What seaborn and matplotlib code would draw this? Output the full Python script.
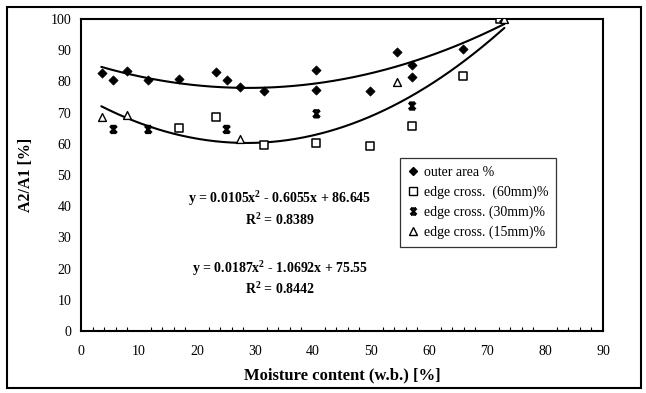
import numpy as np
import pandas as pd
import matplotlib
matplotlib.use("Agg")
import matplotlib.pyplot as plt
from matplotlib.path import Path
from matplotlib.patches import Rectangle
from matplotlib.lines import Line2D
from matplotlib.ticker import MultipleLocator
import seaborn as sns

# Measured ratios A2/A1 against moisture content (w.b.)
outer_x = [3.6, 5.6, 8.0, 11.6, 16.9, 23.2, 25.1, 27.4, 31.6, 40.6, 40.6, 49.8, 54.4, 57.1, 57.1, 65.9, 72.5]
outer_y = [82.8, 80.4, 83.3, 80.3, 80.7, 82.9, 80.4, 78.3, 77.0, 83.5, 77.4, 77.0, 89.3, 85.3, 81.5, 90.4, 100.0]

edge60_x = [16.9, 23.2, 31.6, 40.6, 49.8, 57.1, 65.9, 72.2]
edge60_y = [65.1, 68.7, 59.5, 60.2, 59.3, 65.7, 81.7, 100.0]

edge30_x = [5.6, 11.6, 25.1, 40.6, 57.1, 72.8]
edge30_y = [64.6, 64.6, 64.6, 69.6, 72.1, 100.0]

edge15_x = [3.6, 8.0, 27.4, 54.4, 73.0]
edge15_y = [68.7, 69.2, 61.4, 79.8, 100.0]

series_names = ["outer area %", "edge cross.  (60mm)%", "edge cross. (30mm)%", "edge cross. (15mm)%"]

# Second-order trend lines (coefficients as printed on the chart)
fit_outer = [0.0105, -0.6055, 86.645]
fit_edge = [0.0187, -1.0692, 75.55]
fit_range = [3.5, 73.0]
eq_outer = "y = 0.0105x$^{2}$ - 0.6055x + 86.645\nR$^{2}$ = 0.8389"
eq_edge = "y = 0.0187x$^{2}$ - 1.0692x + 75.55\nR$^{2}$ = 0.8442"

x_ticks = [0, 10, 20, 30, 40, 50, 60, 70, 80, 90]
y_ticks = [0, 10, 20, 30, 40, 50, 60, 70, 80, 90, 100]

sns.set_theme(style="white")
plt.rcParams["font.family"] = ["Liberation Serif", "DejaVu Serif"]
plt.rcParams["mathtext.fontset"] = "custom"
plt.rcParams["mathtext.rm"] = "Liberation Serif:bold"
plt.rcParams["mathtext.it"] = "Liberation Serif:bold"
plt.rcParams["mathtext.bf"] = "Liberation Serif:bold"

frames = []
for name, xs, ys in zip(series_names, [outer_x, edge60_x, edge30_x, edge15_x],
                        [outer_y, edge60_y, edge30_y, edge15_y]):
    frames.append(pd.DataFrame({"moisture": xs, "ratio": ys, "series": name}))
df = pd.concat(frames, ignore_index=True)

# cross marker with bars top and bottom
bowtie = Path([(-1, -1), (1, 1), (-1, 1), (1, -1), (-0.8, 1), (0.8, 1), (-0.8, -1), (0.8, -1)],
              [Path.MOVETO, Path.LINETO, Path.MOVETO, Path.LINETO,
               Path.MOVETO, Path.LINETO, Path.MOVETO, Path.LINETO])

fig = plt.figure(figsize=(6.46, 3.93), dpi=100)
ax = fig.add_axes([81 / 646, 1 - 331 / 393, 522 / 646, 312 / 393])

xx = np.linspace(fit_range[0], fit_range[1], 200)
curves = pd.concat([
    pd.DataFrame({"moisture": xx, "ratio": np.polyval(fit_outer, xx), "fit": "outer"}),
    pd.DataFrame({"moisture": xx, "ratio": np.polyval(fit_edge, xx), "fit": "edge"}),
])
sns.lineplot(data=curves, x="moisture", y="ratio", units="fit", estimator=None,
             color="black", lw=1.5, ax=ax, legend=False, sort=False)

styles = {
    series_names[0]: dict(marker="D", s=22, facecolor="black", edgecolor="black", linewidth=0.5),
    series_names[1]: dict(marker="s", s=38, facecolor="white", edgecolor="black", linewidth=1.1),
    series_names[2]: dict(marker=bowtie, s=24, facecolor="none", edgecolor="black", linewidth=1.8),
    series_names[3]: dict(marker="^", s=32, facecolor="white", edgecolor="black", linewidth=1.0),
}
for name in series_names:
    sub = df[df["series"] == name]
    sns.scatterplot(data=sub, x="moisture", y="ratio", ax=ax, legend=False, zorder=3, **styles[name])

ax.set_xlim(0, 90)
ax.set_ylim(0, 100)
ax.set_xticks(x_ticks)
ax.set_yticks(y_ticks)
ax.xaxis.set_minor_locator(MultipleLocator(2))
ax.tick_params(axis="both", which="major", direction="inout", length=8, width=1,
               color="black", labelsize=10, labelcolor="black")
ax.tick_params(axis="x", which="major", pad=6)
ax.tick_params(axis="y", which="major", pad=3)
ax.tick_params(axis="x", which="minor", direction="in", length=3, width=0.8, color="black", bottom=True)
for sp in ax.spines.values():
    sp.set_color("black")
    sp.set_linewidth(1.5)

ax.set_xlabel("Moisture content (w.b.) [%]", fontsize=12, fontweight="bold", color="black", labelpad=7)
ax.set_ylabel("A2/A1 [%]", fontsize=11.5, fontweight="bold", color="black", labelpad=12)

ax.text(34.3, 39.3, eq_outer, ha="center", va="center", fontsize=10, fontweight="bold",
        linespacing=1.3, color="black")
ax.text(34.3, 17.0, eq_edge, ha="center", va="center", fontsize=10, fontweight="bold",
        linespacing=1.3, color="black")

handles = [
    Line2D([], [], ls="none", marker="D", ms=4, mfc="black", mec="black"),
    Line2D([], [], ls="none", marker="s", ms=5.5, mfc="white", mec="black", mew=1),
    Line2D([], [], ls="none", marker=bowtie, ms=4.5, mfc="none", mec="black", mew=1.6),
    Line2D([], [], ls="none", marker="^", ms=5.5, mfc="white", mec="black", mew=1),
]
leg = fig.legend(handles, series_names, loc="upper left",
                 bbox_to_anchor=(400 / 646, 1 - 158 / 393), bbox_transform=fig.transFigure,
                 frameon=True, fancybox=False, fontsize=10, handlelength=0.7,
                 handletextpad=0.4, borderpad=0.6, labelspacing=0.45, borderaxespad=0)
leg.get_frame().set_edgecolor("black")
leg.get_frame().set_linewidth(0.9)
for t in leg.get_texts():
    t.set_color("black")

fig.patches.append(Rectangle((7 / 646, 5 / 393), 634 / 646, 381 / 393, transform=fig.transFigure,
                             fill=False, edgecolor="black", linewidth=1.5))

fig.savefig("out.png", dpi=100)
